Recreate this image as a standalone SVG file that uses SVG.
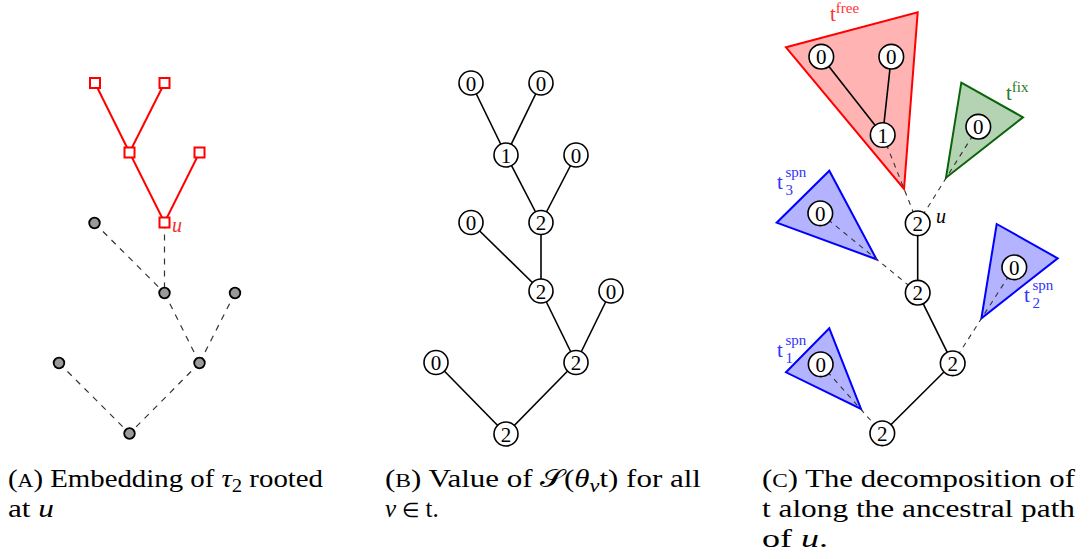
<svg xmlns="http://www.w3.org/2000/svg" width="1090" height="559" viewBox="0 0 1090 559">
<style>
.cap{font-size:25px}
.num{font-size:21px;text-anchor:middle}
.it{font-style:italic}
.sq{fill:#fff;stroke:#f00;stroke-width:2}
.gn{fill:#9a9a9a;stroke:#000;stroke-width:1.8}
.cn{fill:#fff;stroke:#000;stroke-width:1.6}
.re{stroke:#f00;stroke-width:2;fill:none}
.se{stroke:#000;stroke-width:1.6;fill:none}
.da{stroke:#333;stroke-width:1.2;stroke-dasharray:6 6;fill:none}
.dc{stroke:#333;stroke-width:1.1;stroke-dasharray:5 5;fill:none}
.lb{font-size:21px}
.sp{font-size:15px}
</style>
<g font-family="Liberation Serif, serif">
<!-- Panel A -->
<g id="connectorsA">
<line class="re" x1="95" y1="83" x2="129.5" y2="152.5"/>
<line class="re" x1="164.5" y1="83" x2="129.5" y2="152.5"/>
<line class="re" x1="129.5" y1="152.5" x2="164.5" y2="222.5"/>
<line class="re" x1="199.5" y1="152.5" x2="164.5" y2="222.5"/>
<line class="da" x1="164.5" y1="222.5" x2="164.5" y2="293"/>
<line class="da" x1="94.5" y1="223" x2="164.5" y2="293"/>
<line class="da" x1="164.5" y1="293" x2="199.5" y2="363"/>
<line class="da" x1="235" y1="293" x2="199.5" y2="363"/>
<line class="da" x1="59" y1="363" x2="129.5" y2="433.5"/>
<line class="da" x1="199.5" y1="363" x2="129.5" y2="433.5"/>
</g>
<g id="a_sq1"><rect class="sq" x="90" y="78" width="10" height="10"/></g>
<g id="a_sq2"><rect class="sq" x="159.5" y="78" width="10" height="10"/></g>
<g id="a_sq3"><rect class="sq" x="124.5" y="147.5" width="10" height="10"/></g>
<g id="a_sq4"><rect class="sq" x="194.5" y="147.5" width="10" height="10"/></g>
<g id="a_u"><rect class="sq" x="159.5" y="217.5" width="10" height="10"/><text x="172" y="232" class="it" font-size="20" fill="#f03030">u</text></g>
<g id="a_g1"><circle class="gn" cx="94.5" cy="223" r="5.3"/></g>
<g id="a_g2"><circle class="gn" cx="164.5" cy="293" r="5.3"/></g>
<g id="a_g3"><circle class="gn" cx="235" cy="293" r="5.3"/></g>
<g id="a_g4"><circle class="gn" cx="59" cy="363" r="5.3"/></g>
<g id="a_g5"><circle class="gn" cx="199.5" cy="363" r="5.3"/></g>
<g id="a_g6"><circle class="gn" cx="129.5" cy="433.5" r="5.3"/></g>

<!-- Panel B -->
<g id="connectorsB">
<line class="se" x1="471" y1="83" x2="506" y2="155"/>
<line class="se" x1="541" y1="83" x2="506" y2="155"/>
<line class="se" x1="506" y1="155" x2="541" y2="222.5"/>
<line class="se" x1="576" y1="155" x2="541" y2="222.5"/>
<line class="se" x1="541" y1="222.5" x2="541" y2="291"/>
<line class="se" x1="471" y1="222.5" x2="541" y2="291"/>
<line class="se" x1="541" y1="291" x2="576" y2="362.5"/>
<line class="se" x1="611" y1="291" x2="576" y2="362.5"/>
<line class="se" x1="576" y1="362.5" x2="506" y2="434"/>
<line class="se" x1="436" y1="362.5" x2="506" y2="434"/>
</g>
<g id="b1"><circle class="cn" cx="471" cy="83" r="12"/><text class="num" x="471" y="90.5">0</text></g>
<g id="b2"><circle class="cn" cx="541" cy="83" r="12"/><text class="num" x="541" y="90.5">0</text></g>
<g id="b3"><circle class="cn" cx="506" cy="155" r="12"/><text class="num" x="506" y="162.5">1</text></g>
<g id="b4"><circle class="cn" cx="576" cy="155" r="12"/><text class="num" x="576" y="162.5">0</text></g>
<g id="b5"><circle class="cn" cx="541" cy="222.5" r="12"/><text class="num" x="541" y="230">2</text></g>
<g id="b6"><circle class="cn" cx="471" cy="222.5" r="12"/><text class="num" x="471" y="230">0</text></g>
<g id="b7"><circle class="cn" cx="541" cy="291" r="12"/><text class="num" x="541" y="298.5">2</text></g>
<g id="b8"><circle class="cn" cx="611" cy="291" r="12"/><text class="num" x="611" y="298.5">0</text></g>
<g id="b9"><circle class="cn" cx="576" cy="362.5" r="12"/><text class="num" x="576" y="370">2</text></g>
<g id="b10"><circle class="cn" cx="436" cy="362.5" r="12"/><text class="num" x="436" y="370">0</text></g>
<g id="b11"><circle class="cn" cx="506" cy="434" r="12"/><text class="num" x="506" y="441.5">2</text></g>

<!-- Panel C -->
<g id="tfree"><polygon points="786,47.3 917.7,12.3 904,189" fill="#ffb3b3" stroke="#f00" stroke-width="2"/>
<text x="830" y="21" class="lb" fill="#f33">t<tspan dy="-8" class="sp">free</tspan></text></g>
<g id="tfix"><polygon points="961.3,82.7 1023,117.3 946,177.7" fill="#b3d3b3" stroke="#0a640a" stroke-width="2"/>
<text x="1006" y="100" class="lb" fill="#2a7a2a">t<tspan dy="-8" class="sp">fix</tspan></text></g>
<g id="tspn3"><polygon points="829.3,170.7 776.7,222.7 876.5,259.3" fill="#b3b3ff" stroke="#00f" stroke-width="2"/>
<text x="777" y="188.5" class="lb" fill="#33f">t<tspan x="785.5" y="177" class="sp">spn</tspan><tspan x="785.5" y="195" class="sp">3</tspan></text></g>
<g id="tspn2"><polygon points="996.7,224 1057.7,258.3 981.4,318.3" fill="#b3b3ff" stroke="#00f" stroke-width="2"/>
<text x="1024" y="301.5" class="lb" fill="#33f">t<tspan x="1032.5" y="290" class="sp">spn</tspan><tspan x="1032.5" y="308" class="sp">2</tspan></text></g>
<g id="tspn1"><polygon points="829.3,328.3 786,372.3 861,409" fill="#b3b3ff" stroke="#00f" stroke-width="2"/>
<text x="777" y="356.5" class="lb" fill="#33f">t<tspan x="785.5" y="345" class="sp">spn</tspan><tspan x="785.5" y="363" class="sp">1</tspan></text></g>
<g id="connectorsC">
<line class="se" x1="821.3" y1="56.7" x2="882.7" y2="135"/>
<line class="se" x1="891.3" y1="56.7" x2="882.7" y2="135"/>
<line class="dc" x1="882.7" y1="135" x2="917.7" y2="223.3"/>
<line class="dc" x1="978.3" y1="126.7" x2="917.7" y2="223.3"/>
<line class="dc" x1="820.3" y1="213.3" x2="917.7" y2="292.7"/>
<line class="dc" x1="1014.3" y1="267.3" x2="952.7" y2="363.3"/>
<line class="dc" x1="820.7" y1="364.3" x2="882.3" y2="433.3"/>
<line class="se" x1="917.7" y1="223.3" x2="917.7" y2="292.7"/>
<line class="se" x1="917.7" y1="292.7" x2="952.7" y2="363.3"/>
<line class="se" x1="952.7" y1="363.3" x2="882.3" y2="433.3"/>
</g>
<g id="c_f0a"><circle class="cn" cx="821.3" cy="56.7" r="12.3"/><text class="num" x="821.3" y="64.2">0</text></g>
<g id="c_f0b"><circle class="cn" cx="891.3" cy="56.7" r="12.3"/><text class="num" x="891.3" y="64.2">0</text></g>
<g id="c_f1"><circle class="cn" cx="882.7" cy="135" r="12.3"/><text class="num" x="882.7" y="142.5">1</text></g>
<g id="c_fix0"><circle class="cn" cx="978.3" cy="126.7" r="12.3"/><text class="num" x="978.3" y="134.2">0</text></g>
<g id="c_s3"><circle class="cn" cx="820.3" cy="213.3" r="12.3"/><text class="num" x="820.3" y="220.8">0</text></g>
<g id="c_s2"><circle class="cn" cx="1014.3" cy="267.3" r="12.3"/><text class="num" x="1014.3" y="274.8">0</text></g>
<g id="c_s1"><circle class="cn" cx="820.7" cy="364.3" r="12.3"/><text class="num" x="820.7" y="371.8">0</text></g>
<g id="c_u"><circle class="cn" cx="917.7" cy="223.3" r="12.3"/><text class="num" x="917.7" y="230.8">2</text><text x="936" y="222.5" class="it" font-size="20">u</text></g>
<g id="c_n2"><circle class="cn" cx="917.7" cy="292.7" r="12.3"/><text class="num" x="917.7" y="300.2">2</text></g>
<g id="c_n3"><circle class="cn" cx="952.7" cy="363.3" r="12.3"/><text class="num" x="952.7" y="370.8">2</text></g>
<g id="c_n4"><circle class="cn" cx="882.3" cy="433.3" r="12.3"/><text class="num" x="882.3" y="440.8">2</text></g>

<!-- Captions -->
<g id="captionA">
<text class="cap" x="8" y="487" textLength="315" lengthAdjust="spacingAndGlyphs">(<tspan font-size="19">A</tspan>) Embedding of <tspan class="it">τ</tspan><tspan dy="5" font-size="18">2</tspan><tspan dy="-5"> rooted</tspan></text>
<text class="cap" x="8" y="517" textLength="46" lengthAdjust="spacingAndGlyphs">at <tspan class="it">u</tspan></text>
</g>
<g id="captionB">
<text class="cap" x="385" y="487" textLength="316" lengthAdjust="spacingAndGlyphs">(<tspan font-size="19">B</tspan>) Value of 𝒮(<tspan class="it">θ</tspan><tspan class="it" dy="5" font-size="18">v</tspan><tspan dy="-5">t) for all</tspan></text>
<text class="cap" x="385" y="517"><tspan class="it">v</tspan> <tspan font-size="20">∈</tspan> t.</text>
</g>
<g id="captionC">
<text class="cap" x="762" y="487" textLength="313" lengthAdjust="spacingAndGlyphs">(<tspan font-size="19">C</tspan>) The decomposition of</text>
<text class="cap" x="762" y="517" textLength="313" lengthAdjust="spacingAndGlyphs">t along the ancestral path</text>
<text class="cap" x="762" y="547" textLength="66" lengthAdjust="spacingAndGlyphs">of <tspan class="it">u</tspan>.</text>
</g>
</g>
</svg>
